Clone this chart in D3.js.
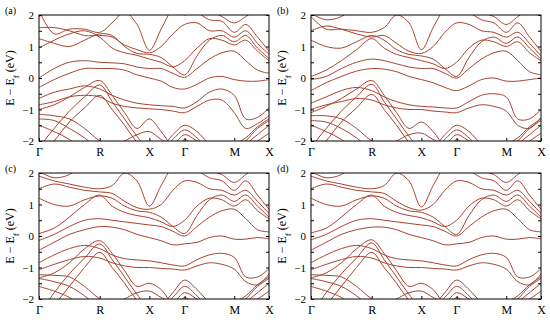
<!DOCTYPE html>
<html><head><meta charset="utf-8">
<script src="https://cdn.jsdelivr.net/npm/d3@7"></script>
<style>body{margin:0;background:#fff}svg{display:block}text{font-family:"Liberation Serif","DejaVu Serif",serif}</style>
</head><body>
<svg id="chart" width="550" height="322"></svg>
<script>
// High-symmetry path labels and their fractional positions along the k-path
const kLabels = ["Γ", "R", "X", "Γ", "M", "X"];
const kLabelPos = [0, 0.264, 0.480, 0.633, 0.849, 1];
// k sampling points (fraction of path) where band energies are read
const kGrid = [0, 0.066, 0.132, 0.198, 0.264, 0.318, 0.372, 0.426, 0.480, 0.531, 0.582, 0.633, 0.687, 0.741, 0.795, 0.849, 0.899, 0.950, 1];
const yTickLabels = [-2, -1, 0, 1, 2];
const yTickMinor = [-1.5, -0.5, 0.5, 1.5];
const panelLabels = ["(a)", "(b)", "(c)", "(d)"];

const bandsA = [
  [1.95, 2.2, 2.4, 2.5, 2.5, 2.4, 2.3, 2.15, 2.1, 2.2, 2.3, 2.0, 2.3, 2.15, 1.95, 1.75, 1.95, 2.2, 2.4],
  [2.15, 1.4, 1.55, 1.55, 1.45, 1.75, 2.1, 1.7, 0.88, 1.55, 2.2, 2.4, 2.1, 1.85, 1.8, 1.45, 1.7, 1.3, 0.85],
  [1.6, 1.6, 1.5, 1.35, 1.35, 1.3, 1.05, 0.9, 0.8, 1.0, 1.4, 1.7, 1.75, 1.5, 1.5, 1.3, 1.5, 1.1, 0.75],
  [1.25, 1.1, 1.0, 1.2, 1.4, 1.35, 1.0, 0.78, 0.75, 0.65, 0.35, 0.1, 0.7, 1.2, 1.35, 1.15, 1.35, 0.95, 0.62],
  [0.95, 1.2, 1.4, 1.5, 1.3, 0.95, 0.8, 0.72, 0.6, 0.5, 0.35, 0.55, 0.95, 1.25, 1.2, 1.05, 1.2, 0.85, 0.55],
  [0.0, 0.3, 0.5, 0.55, 0.5, 0.48, 0.45, 0.35, 0.3, 0.3, 0.15, 0.02, 0.3, 0.6, 0.8, 0.85, 0.55, 0.25, 0.15],
  [-0.3, -0.05, 0.15, 0.3, 0.3, 0.3, 0.25, 0.1, 0.0, -0.1, -0.3, -0.35, -0.2, 0.0, 0.05, -0.05, -0.1, -0.1, -0.05],
  [-0.65, -0.45, -0.35, -0.25, -0.35, -0.55, -0.7, -0.8, -0.85, -0.88, -0.9, -0.95, -0.75, -0.45, -0.35, -0.55, -1.3, -1.25, -0.95],
  [-0.85, -0.75, -0.6, -0.55, -0.6, -0.8, -0.9, -0.95, -0.98, -1.0, -1.05, -1.1, -0.9, -0.7, -0.7, -1.1, -1.6, -1.45, -1.2],
  [-1.0, -0.85, -0.6, -0.3, -0.08, -0.55, -1.1, -1.6, -1.3, -1.7, -2.2, -2.5, -2.5, -2.5, -2.5, -2.3, -2.0, -1.6, -1.35],
  [-2.2, -1.6, -1.05, -0.6, -0.22, -0.75, -1.3, -1.85, -2.3, -2.2, -1.8, -1.5, -1.7, -2.1, -2.3, -2.1, -1.9, -1.55, -1.3],
  [-2.6, -2.0, -1.4, -0.95, -0.55, -1.0, -1.5, -2.05, -2.5, -2.3, -1.95, -1.65, -1.9, -2.3, -2.5, -2.4, -2.1, -1.8, -1.5],
  [-1.15, -1.2, -1.3, -1.6, -2.0, -2.2, -2.0, -1.8, -1.7, -1.95, -2.1, -1.8, -2.0, -2.2, -2.3, -2.05, -2.2, -2.0, -1.75],
  [-1.3, -1.35, -1.6, -1.9, -2.3, -2.5, -2.5, -2.5, -2.5, -2.5, -2.5, -1.95, -2.3, -2.5, -2.5, -2.5, -2.5, -2.5, -2.5],
  [-1.5, -1.7, -1.95, -2.3, -2.5, -2.5, -2.5, -2.5, -2.5, -2.5, -2.5, -2.5, -2.5, -2.5, -2.5, -2.5, -2.5, -2.5, -2.5]
];
const bandsB = [
  [2.05, 1.85, 1.95, 2.3, 2.5, 2.4, 2.3, 2.15, 2.05, 2.2, 2.3, 2.05, 2.3, 2.1, 1.95, 1.7, 1.95, 2.2, 2.4],
  [1.95, 1.55, 1.55, 1.5, 1.45, 1.6, 2.0, 1.75, 0.9, 1.6, 2.2, 2.4, 2.1, 1.85, 1.75, 1.45, 1.75, 1.3, 0.85],
  [1.5, 1.65, 1.55, 1.4, 1.3, 1.35, 1.1, 0.85, 0.78, 1.0, 1.45, 1.75, 1.7, 1.5, 1.45, 1.3, 1.45, 1.1, 0.7],
  [1.2, 1.0, 0.95, 1.15, 1.35, 1.2, 0.9, 0.75, 0.7, 0.6, 0.3, 0.05, 0.65, 1.15, 1.3, 1.1, 1.3, 0.95, 0.6],
  [0.05, 0.25, 0.55, 0.9, 1.25, 0.95, 0.75, 0.65, 0.55, 0.45, 0.3, 0.5, 0.95, 1.2, 1.15, 1.0, 1.15, 0.8, 0.55],
  [-0.05, 0.05, 0.3, 0.5, 0.6, 0.55, 0.45, 0.35, 0.3, 0.3, 0.15, 0.0, 0.3, 0.6, 0.8, 0.85, 0.55, 0.2, 0.1],
  [-0.4, -0.15, 0.05, 0.22, 0.3, 0.28, 0.2, 0.05, -0.05, -0.15, -0.3, -0.4, -0.25, -0.05, 0.0, -0.1, -0.1, -0.05, 0.0],
  [-0.8, -0.6, -0.4, -0.3, -0.4, -0.6, -0.75, -0.85, -0.9, -0.92, -0.95, -0.95, -0.75, -0.55, -0.5, -0.6, -1.3, -1.3, -1.0],
  [-1.0, -0.85, -0.75, -0.65, -0.7, -0.85, -0.95, -1.0, -1.0, -1.05, -1.08, -1.1, -0.95, -0.85, -0.9, -1.05, -1.5, -1.6, -1.25],
  [-1.1, -0.9, -0.65, -0.35, -0.08, -0.55, -1.1, -1.6, -1.4, -1.7, -2.2, -2.5, -2.5, -2.5, -2.5, -2.3, -2.0, -1.6, -1.35],
  [-2.2, -1.6, -1.05, -0.6, -0.2, -0.75, -1.3, -1.85, -2.3, -2.2, -1.8, -1.5, -1.7, -2.1, -2.3, -2.1, -1.9, -1.55, -1.3],
  [-2.6, -2.0, -1.4, -0.95, -0.52, -1.0, -1.5, -2.05, -2.5, -2.3, -1.95, -1.65, -1.9, -2.3, -2.5, -2.4, -2.1, -1.8, -1.5],
  [-1.2, -1.2, -1.3, -1.6, -2.0, -2.2, -2.0, -1.8, -1.75, -1.95, -2.1, -1.8, -2.0, -2.2, -2.3, -2.05, -2.2, -2.0, -1.75],
  [-1.35, -1.4, -1.6, -1.9, -2.3, -2.5, -2.5, -2.5, -2.5, -2.5, -2.5, -1.95, -2.3, -2.5, -2.5, -2.5, -2.5, -2.5, -2.5],
  [-1.5, -1.7, -1.95, -2.3, -2.5, -2.5, -2.5, -2.5, -2.5, -2.5, -2.5, -2.5, -2.5, -2.5, -2.5, -2.5, -2.5, -2.5, -2.5]
];
const bandsC = [
  [2.05, 1.85, 1.95, 2.3, 2.5, 2.4, 2.3, 2.15, 2.05, 2.2, 2.3, 2.05, 2.3, 2.1, 1.95, 1.7, 1.95, 2.2, 2.4],
  [1.9, 1.75, 1.65, 1.55, 1.5, 1.6, 2.0, 1.75, 0.95, 1.6, 2.2, 2.4, 2.1, 1.85, 1.75, 1.45, 1.75, 1.3, 0.85],
  [1.5, 1.65, 1.55, 1.45, 1.4, 1.35, 1.1, 0.9, 0.85, 1.0, 1.45, 1.75, 1.7, 1.5, 1.45, 1.3, 1.45, 1.1, 0.72],
  [1.2, 1.0, 0.95, 1.15, 1.27, 1.2, 0.95, 0.8, 0.75, 0.6, 0.3, 0.08, 0.65, 1.15, 1.3, 1.1, 1.3, 0.95, 0.6],
  [0.08, 0.25, 0.6, 1.0, 1.3, 0.95, 0.75, 0.65, 0.58, 0.45, 0.3, 0.5, 0.95, 1.2, 1.15, 0.95, 1.15, 0.8, 0.55],
  [-0.14, 0.05, 0.3, 0.5, 0.55, 0.5, 0.45, 0.4, 0.35, 0.3, 0.15, 0.0, 0.3, 0.6, 0.8, 0.85, 0.55, 0.2, 0.13],
  [-0.45, -0.2, 0.05, 0.2, 0.3, 0.28, 0.2, 0.05, -0.05, -0.15, -0.28, -0.25, -0.2, -0.05, 0.0, -0.1, -0.1, -0.05, -0.09],
  [-0.85, -0.6, -0.4, -0.3, -0.4, -0.6, -0.72, -0.76, -0.79, -0.85, -0.92, -0.95, -0.75, -0.6, -0.55, -0.68, -1.3, -1.3, -1.04],
  [-1.07, -0.9, -0.75, -0.65, -0.7, -0.85, -0.95, -1.0, -1.0, -1.03, -1.05, -1.08, -0.95, -0.85, -0.9, -1.05, -1.45, -1.55, -1.2],
  [-1.33, -1.17, -0.85, -0.41, -0.15, -0.55, -1.1, -1.6, -1.5, -1.7, -2.2, -2.5, -2.5, -2.5, -2.5, -2.3, -2.0, -1.6, -1.35],
  [-2.5, -1.8, -1.2, -0.7, -0.25, -0.75, -1.3, -1.85, -2.3, -2.2, -1.8, -1.4, -1.7, -2.1, -2.3, -2.1, -1.9, -1.55, -1.3],
  [-2.8, -2.2, -1.6, -1.0, -0.52, -1.0, -1.5, -2.05, -2.5, -2.3, -1.95, -1.6, -1.9, -2.3, -2.5, -2.4, -2.1, -1.8, -1.5],
  [-1.23, -1.25, -1.3, -1.6, -2.0, -2.2, -2.0, -1.8, -1.75, -1.95, -2.1, -1.8, -2.0, -2.2, -2.3, -2.05, -2.2, -2.0, -1.75],
  [-1.35, -1.45, -1.6, -1.9, -2.3, -2.5, -2.5, -2.5, -2.5, -2.5, -2.5, -1.95, -2.3, -2.5, -2.5, -2.5, -2.5, -2.5, -2.5],
  [-1.6, -1.75, -1.95, -2.3, -2.5, -2.5, -2.5, -2.5, -2.5, -2.5, -2.5, -2.5, -2.5, -2.5, -2.5, -2.5, -2.5, -2.5, -2.5]
];
const bandsD = [
  [2.05, 1.85, 1.95, 2.3, 2.5, 2.4, 2.3, 2.15, 2.05, 2.2, 2.3, 2.05, 2.3, 2.1, 1.95, 1.7, 1.95, 2.2, 2.4],
  [1.9, 1.75, 1.65, 1.55, 1.5, 1.6, 2.0, 1.75, 0.92, 1.6, 2.2, 2.4, 2.1, 1.85, 1.75, 1.45, 1.75, 1.3, 0.85],
  [1.5, 1.65, 1.55, 1.45, 1.4, 1.35, 1.1, 0.9, 0.82, 1.0, 1.45, 1.75, 1.7, 1.5, 1.45, 1.3, 1.45, 1.1, 0.72],
  [1.2, 1.0, 0.95, 1.15, 1.27, 1.2, 0.95, 0.8, 0.75, 0.6, 0.3, 0.05, 0.65, 1.15, 1.3, 1.1, 1.3, 0.95, 0.6],
  [0.1, 0.25, 0.6, 1.0, 1.3, 0.95, 0.75, 0.65, 0.58, 0.45, 0.3, 0.5, 0.95, 1.2, 1.15, 0.95, 1.15, 0.8, 0.55],
  [-0.12, 0.05, 0.3, 0.5, 0.55, 0.5, 0.45, 0.4, 0.35, 0.3, 0.15, 0.0, 0.3, 0.6, 0.8, 0.85, 0.55, 0.2, 0.13],
  [-0.45, -0.2, 0.05, 0.2, 0.28, 0.28, 0.2, 0.05, -0.05, -0.15, -0.28, -0.25, -0.2, -0.05, 0.0, -0.1, -0.1, -0.05, -0.09],
  [-0.85, -0.6, -0.4, -0.3, -0.4, -0.6, -0.72, -0.76, -0.79, -0.85, -0.92, -0.95, -0.75, -0.6, -0.55, -0.68, -1.3, -1.3, -1.04],
  [-1.07, -0.9, -0.75, -0.65, -0.7, -0.85, -0.95, -1.0, -1.0, -1.03, -1.05, -1.08, -0.95, -0.85, -0.9, -1.05, -1.45, -1.55, -1.2],
  [-1.33, -1.17, -0.85, -0.41, -0.12, -0.55, -1.1, -1.6, -1.5, -1.7, -2.2, -2.5, -2.5, -2.5, -2.5, -2.3, -2.0, -1.6, -1.35],
  [-2.5, -1.8, -1.2, -0.7, -0.22, -0.75, -1.3, -1.85, -2.3, -2.2, -1.8, -1.4, -1.7, -2.1, -2.3, -2.1, -1.9, -1.55, -1.3],
  [-2.8, -2.2, -1.6, -1.0, -0.52, -1.0, -1.5, -2.05, -2.5, -2.3, -1.95, -1.6, -1.9, -2.3, -2.5, -2.4, -2.1, -1.8, -1.5],
  [-1.23, -1.25, -1.3, -1.6, -2.0, -2.2, -2.0, -1.8, -1.75, -1.95, -2.1, -1.8, -2.0, -2.2, -2.3, -2.05, -2.2, -2.0, -1.75],
  [-1.35, -1.45, -1.6, -1.9, -2.3, -2.5, -2.5, -2.5, -2.5, -2.5, -2.5, -1.95, -2.3, -2.5, -2.5, -2.5, -2.5, -2.5, -2.5],
  [-1.6, -1.75, -1.95, -2.3, -2.5, -2.5, -2.5, -2.5, -2.5, -2.5, -2.5, -2.5, -2.5, -2.5, -2.5, -2.5, -2.5, -2.5, -2.5]
];

const panelBands = [bandsA, bandsB, bandsC, bandsD];
const panelOrigin = [[39, 15], [311, 15], [39, 173], [311, 173]];
const W = 230, H = 126;
const lineColor = "#a8432f";

const svg = d3.select("#chart");
const fmt = d => d < 0 ? "\u2212" + Math.abs(d) : String(d);
const serif = "'Liberation Serif','DejaVu Serif',serif";

panelBands.forEach((bands, pi) => {
  const [ox, oy] = panelOrigin[pi];
  const g = svg.append("g").attr("transform", `translate(${ox},${oy})`);
  const x = d3.scaleLinear().domain([0, 1]).range([0, W]);
  const y = d3.scaleLinear().domain([-2, 2]).range([H, 0]);
  const cid = "clip" + pi;
  g.append("clipPath").attr("id", cid).append("rect").attr("width", W).attr("height", H);
  const line = d3.line().x((d, i) => x(kGrid[i])).y(d => y(d)).curve(d3.curveCatmullRom.alpha(0.5));
  g.append("g").attr("clip-path", `url(#${cid})`).selectAll("path").data(bands).join("path")
    .attr("d", line).attr("fill", "none").attr("stroke", lineColor).attr("stroke-width", 1);

  const allY = yTickLabels.concat(yTickMinor).sort((a, b) => a - b);
  const yl = g.append("g").call(d3.axisLeft(y).tickValues(allY).tickSize(-3).tickPadding(5)
    .tickFormat(d => Number.isInteger(d) ? fmt(d) : ""));
  const yr = g.append("g").attr("transform", `translate(${W},0)`).call(d3.axisRight(y).tickValues(allY).tickSize(-3).tickFormat(""));
  const xb = g.append("g").attr("transform", `translate(0,${H})`).call(d3.axisBottom(x).tickValues(kLabelPos).tickSize(-3).tickPadding(6)
    .tickFormat((d, i) => kLabels[i]));
  [yl, yr, xb].forEach(a => {
    a.attr("font-family", null);
    a.select(".domain").remove();
    a.selectAll("line").attr("stroke", "#000");
    a.selectAll("text").attr("fill", "#000").style("font-family", serif);
  });
  yl.selectAll("text").style("font-size", "11px");
  xb.selectAll("text").style("font-size", "12px");
  g.append("rect").attr("width", W).attr("height", H).attr("fill", "none").attr("stroke", "#000").attr("stroke-width", 1);

  const t = g.append("text").attr("transform", `translate(${-25},${H / 2}) rotate(-90)`)
    .attr("text-anchor", "middle").style("font-family", serif).style("font-size", "12px");
  t.append("tspan").text("E \u2212 E");
  t.append("tspan").attr("baseline-shift", "sub").style("font-size", "9px").text("f");
  t.append("tspan").text(" (eV)");

  g.append("text").attr("x", -34).attr("y", -1).style("font-family", serif)
    .style("font-size", "10px").text(panelLabels[pi]);
});
</script>
</body></html>
